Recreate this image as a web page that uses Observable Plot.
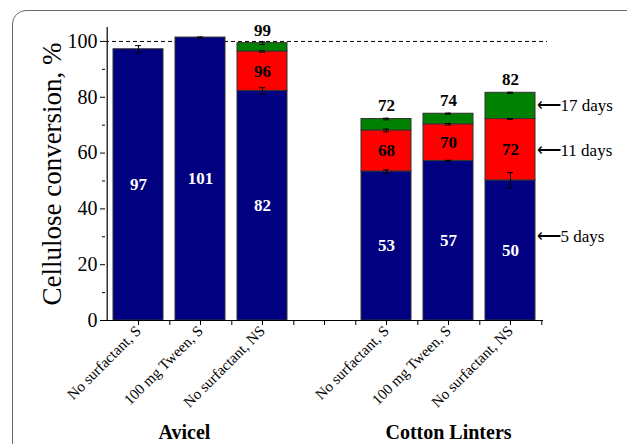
<!DOCTYPE html>
<html>
<head>
<meta charset="utf-8">
<script src="https://cdn.jsdelivr.net/npm/d3@7"></script>
<script src="https://cdn.jsdelivr.net/npm/@observablehq/plot@0.6"></script>
<style>
  html, body { margin: 0; padding: 0; width: 627px; height: 444px; overflow: hidden; background: #fff; }
  #frame { position: absolute; left: 12px; top: 10px; width: 700px; height: 500px;
           border: 1.5px solid #6a6a6a; border-radius: 14px; box-sizing: border-box; }
  #chart { position: absolute; left: 0; top: 0; }
</style>
</head>
<body>
<div id="frame"></div>
<div id="chart"></div>
<script>
// ---- data ----
const keys = ["A1", "A2", "A3", "gap", "C1", "C2", "C3"];
const tickLabels = ["No surfactant, S", "100 mg Tween, S", "No surfactant, NS", "",
                    "No surfactant, S", "100 mg Tween, S", "No surfactant, NS"];
const groups = ["Avicel", "Cotton Linters"];
const yTitle = "Cellulose conversion, %";
const periods = ["5 days", "11 days", "17 days"];
const day5  = [97.2, 101.4, 82.3, null, 53.4, 57.2, 50.2];
const day11 = [null, null, 96.4, null, 68.1, 70.3, 72.2];
const day17 = [null, null, 99.4, null, 72.2, 74.1, 81.6];
const err5  = [1.3, 0.2, 1.1, null, 0.6, 0.2, 2.8];
const err11 = [null, null, 0.3, null, 0.5, 0.3, 0.2];
const err17 = [null, null, 0.5, null, 0.3, 0.2, 0.2];
const annotationY = [30, 61, 77]; // where the period labels sit on the right
const colors = ["#000080", "#ff0000", "#008000"];

// ---- derived tables ----
const cum = [day5, day11, day17];
const errs = [err5, err11, err17];
const segments = [];
const errorBars = [];
keys.forEach((k, i) => {
  let prev = 0;
  cum.forEach((arr, p) => {
    const v = arr[i];
    if (v == null) return;
    segments.push({key: k, period: periods[p], y1: prev, y2: v, mid: (prev + v) / 2, label: Math.round(v)});
    if (errs[p][i] != null) errorBars.push({key: k, y: v, e: errs[p][i]});
    prev = v;
  });
});
const blueLabels = segments.filter(d => d.period === "5 days");
const redLabels = segments.filter(d => d.period === "11 days");
const greenLabels = segments.filter(d => d.period === "17 days");
const annotations = periods.map((p, j) => ({text: "\u27F5" + p, y: annotationY[j]}));
const labelOf = Object.fromEntries(keys.map((k, i) => [k, tickLabels[i]]));
const font = "Liberation Serif";

const chart = Plot.plot({
  width: 627,
  height: 444,
  marginLeft: 105,
  marginRight: 84,
  marginTop: 27,
  marginBottom: 124,
  style: {fontFamily: font, background: "transparent", overflow: "visible", color: "#000"},
  x: {domain: keys, paddingInner: 0.2, paddingOuter: 0.1, axis: null},
  y: {domain: [0, 105], axis: null},
  color: {domain: periods, range: colors},
  marks: [
    Plot.ruleY([100], {stroke: "#000", strokeWidth: 1, strokeDasharray: "4,3", insetRight: -4}),
    Plot.rectY(segments, {x: "key", y1: "y1", y2: "y2", fill: "period", stroke: "#333", strokeWidth: 1}),
    // error bars
    Plot.ruleX(errorBars, {x: "key", y1: d => d.y - d.e, y2: d => d.y + d.e, stroke: "#000", strokeWidth: 1}),
    Plot.tickY(errorBars, {x: "key", y: d => d.y - d.e, insetLeft: 22, insetRight: 22, stroke: "#000", strokeWidth: 1}),
    Plot.tickY(errorBars, {x: "key", y: d => d.y + d.e, insetLeft: 22, insetRight: 22, stroke: "#000", strokeWidth: 1}),
    // value labels
    Plot.text(blueLabels, {x: "key", y: "mid", text: "label", fill: "#fff", fontWeight: "bold", fontSize: 17, fontFamily: font}),
    Plot.text(redLabels, {x: "key", y: "mid", text: "label", fill: "#000", fontWeight: "bold", fontSize: 17, fontFamily: font}),
    Plot.text(greenLabels, {x: "key", y: "y2", text: "label", fill: "#000", fontWeight: "bold", fontSize: 17, dy: -13, fontFamily: font}),
    // period annotations
    Plot.text(annotations, {x: () => "C3", y: "y", text: "text", textAnchor: "start", dx: 26, fontSize: 17, fill: "#000", fontFamily: font}),
    // axes lines
    Plot.ruleY([0], {stroke: "#000", strokeWidth: 1.2}),
    Plot.ruleX([keys[0]], {dx: -31.3, stroke: "#000", strokeWidth: 1.2}),
    // y axis
    Plot.axisY({ticks: [0, 20, 40, 60, 80, 100], tickSize: 5, tickPadding: 3, fontSize: 20, fontFamily: font, label: null}),
    Plot.axisY({ticks: [10, 30, 50, 70, 90], tickSize: 3, tickFormat: () => "", label: null}),
    // x axis
    Plot.axisX({tickSize: 5, tickPadding: 3, tickRotate: -45, fontSize: 15, fontFamily: font, tickFormat: k => labelOf[k], label: null}),
    Plot.ruleX(keys, {dx: 31.3, insetTop: 293, insetBottom: -5, stroke: "#000", strokeWidth: 1}),
    // y axis title
    Plot.text([yTitle], {x: () => keys[0], y: () => 52.5, text: d => d, rotate: -90, dx: -86, fontSize: 27, fill: "#000", fontFamily: font}),
    // group labels
    Plot.text([groups[0]], {x: () => "A2", frameAnchor: "bottom", text: d => d, dx: -16, dy: 118, fontSize: 20, fontWeight: "bold", fill: "#000", fontFamily: font}),
    Plot.text([groups[1]], {x: () => "C2", frameAnchor: "bottom", text: d => d, dy: 118, fontSize: 20, fontWeight: "bold", fill: "#000", fontFamily: font})
  ]
});
document.getElementById("chart").append(chart);
</script>
</body>
</html>
